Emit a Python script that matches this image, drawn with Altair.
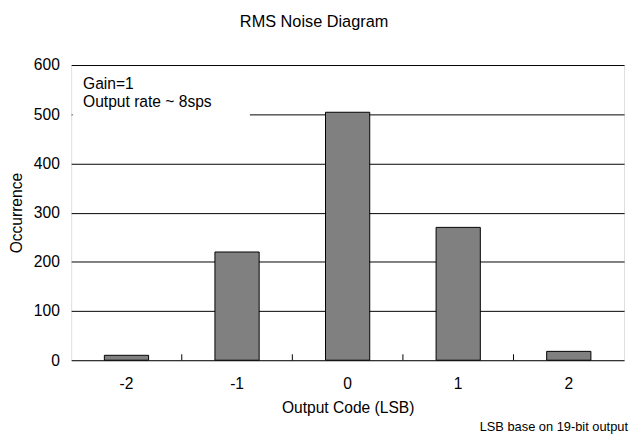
import altair as alt
import pandas as pd

codes = ["-2", "-1", "0", "1", "2"]
counts = [10, 220, 504, 270, 18]
boundaries = ["-1", "0", "1", "2"]
y_ticks = [0, 100, 200, 300, 400, 500, 600]

title_text = "RMS Noise Diagram"
box_line1 = "Gain=1"
box_line2 = "Output rate ~ 8sps"
note_text = "LSB base on 19-bit output"

FONT = "Liberation Sans"
FS = 15.8

df = pd.DataFrame({"code": codes, "count": counts})
bdf = pd.DataFrame({"code": boundaries})

xscale = alt.Scale(domain=codes, paddingInner=0, paddingOuter=0)
yscale = alt.Scale(domain=[0, 600])

xaxis = alt.Axis(title="Output Code (LSB)", labelAngle=0, ticks=False, domain=False,
                 labelPadding=17, titlePadding=9, labelFontSize=FS,
                 titleFontSize=FS, titleFontWeight="normal", labelColor="black",
                 titleColor="black", labelFont=FONT, titleFont=FONT)

bars = alt.Chart(df).mark_bar(
    color="#808080", stroke="black", strokeWidth=1, width=alt.RelativeBandSize(0.4)
).encode(
    x=alt.X("code:O", scale=xscale, sort=codes, axis=xaxis),
    y=alt.Y("count:Q", scale=yscale,
            axis=alt.Axis(title="Occurrence", values=y_ticks, ticks=False, domain=False,
                          grid=True, gridColor="black", gridOpacity=1, gridWidth=1,
                          labelPadding=12, titlePadding=9, labelFontSize=FS,
                          titleFontSize=FS, titleFontWeight="normal", labelColor="black",
                          titleColor="black", labelFont=FONT, titleFont=FONT)),
)

ticks = alt.Chart(bdf).mark_rule(color="black", strokeWidth=1).encode(
    x=alt.X("code:O", scale=xscale, sort=codes, bandPosition=0, axis=xaxis),
    y=alt.value(299),
    y2=alt.value(293),
)

box = alt.Chart(pd.DataFrame({"k": [0]})).mark_rect(color="white").encode(
    x=alt.value(1.5), x2=alt.value(181), y=alt.value(1.5), y2=alt.value(55)
)

def label(text, x, y, size, align="left"):
    return alt.Chart(pd.DataFrame({"t": [text]})).mark_text(
        align=align, baseline="alphabetic", font=FONT, fontSize=size, color="black"
    ).encode(text="t:N", x=alt.value(x), y=alt.value(y))

box_text1 = label(box_line1, 12, 24, FS)
box_text2 = label(box_line2, 12, 43, FS)
title = label(title_text, 246, -39, 16.5, "center")
note = label(note_text, 564, 371, 13, "right")

chart = alt.layer(bars, ticks, box, box_text1, box_text2, title, note).properties(
    width=560, height=299,
    autosize=alt.AutoSizeParams(type="none"),
    padding={"left": 64, "top": 55, "right": 5, "bottom": 75},
).configure_view(stroke="black", strokeWidth=1).configure(background="white")

chart.save("out.html", embed_options={"renderer": "svg", "actions": False})
